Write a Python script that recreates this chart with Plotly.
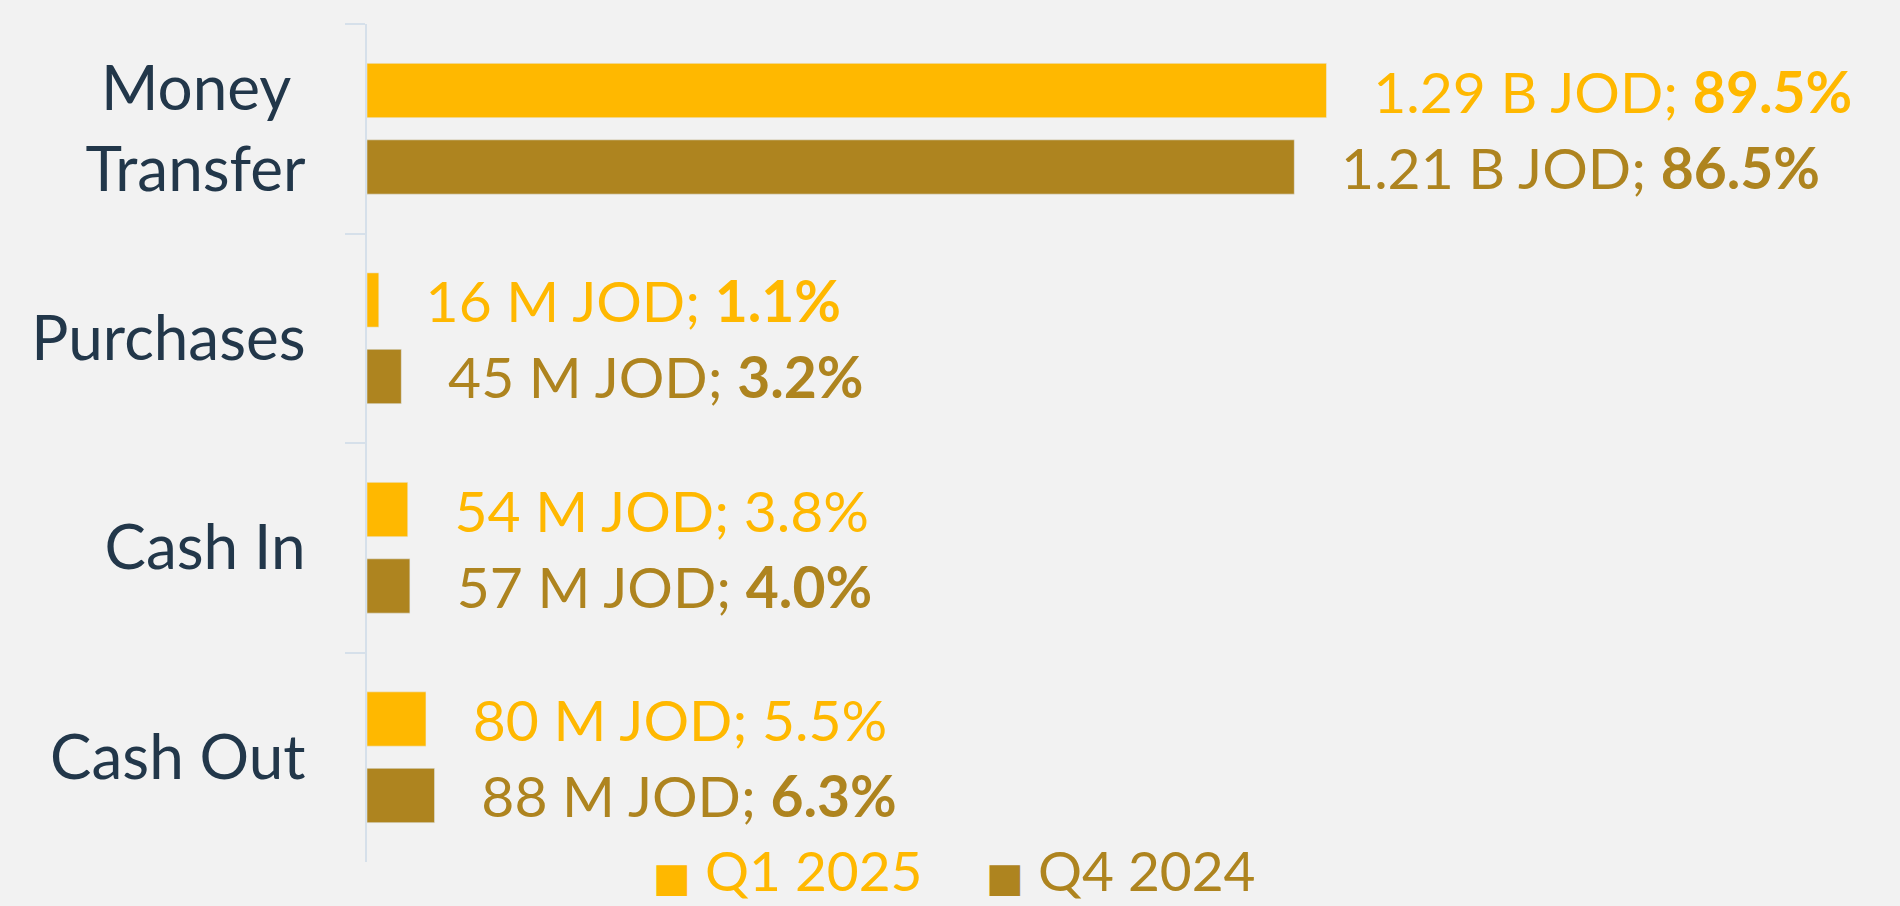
import plotly.graph_objects as go

# data
categories = ["Money <br>Transfer", "Purchases", "Cash In", "Cash Out"]
series_names = ["Q1 2025", "Q4 2024"]
q1_amounts = ["1.29 B", "16 M", "54 M", "80 M"]
q1_share = [89.5, 1.1, 3.8, 5.5]
q1_bold = [True, True, False, False]
q4_amounts = ["1.21 B", "45 M", "57 M", "88 M"]
q4_share = [86.5, 3.2, 4.0, 6.3]
q4_bold = [True, True, True, True]

Q1_COLOR = "#FFB800"
Q4_COLOR = "#AE841F"
FONT = "Lato"
PAD = "\u00a0" * 3  # gap between bar end and its label


def make_labels(amounts, shares, bold):
    out = []
    for a, s, b in zip(amounts, shares, bold):
        pct = f"{s:.1f}%"
        if b:
            pct = f"<b>{pct}</b>"
        out.append(f"{PAD}{a} JOD; {pct}")
    return out


fig = go.Figure()
fig.add_trace(go.Bar(
    y=categories, x=q1_share, orientation="h", name=series_names[0],
    marker_color=Q1_COLOR,
    text=make_labels(q1_amounts, q1_share, q1_bold),
    textposition="outside", textfont=dict(color=Q1_COLOR, size=57, family=FONT),
    constraintext="none", cliponaxis=False,
))
fig.add_trace(go.Bar(
    y=categories, x=q4_share, orientation="h", name=series_names[1],
    marker_color=Q4_COLOR,
    text=make_labels(q4_amounts, q4_share, q4_bold),
    textposition="outside", textfont=dict(color=Q4_COLOR, size=57, family=FONT),
    constraintext="none", cliponaxis=False,
))

# legend drawn as text so the swatches can be as large as in the reference
for name, color, xpos in zip(series_names, [Q1_COLOR, Q4_COLOR], [0.1854, 0.4025]):
    fig.add_annotation(
        xref="paper", yref="paper", x=xpos, y=-0.01,
        xanchor="left", yanchor="middle", showarrow=False,
        text=f"<span style='font-family:DejaVu Sans;font-size:40px'>■</span>\u00a0{name}",
        font=dict(color=color, size=55, family=FONT),
    )

fig.update_layout(
    width=1900, height=906,
    barmode="group", bargap=0.27, bargroupgap=0.29,
    plot_bgcolor="#f2f2f2", paper_bgcolor="#f2f2f2",
    font=dict(family=FONT, size=57, color="#22374a"),
    margin=dict(l=367, r=0, t=24, b=44, autoexpand=False),
    showlegend=False,
)
fig.update_xaxes(range=[0, 143], visible=False, showgrid=False, zeroline=False)
fig.update_yaxes(
    autorange="reversed", showgrid=False, zeroline=False,
    showline=True, linecolor="#d6e0ea", linewidth=2,
    ticks="outside", tickson="boundaries", ticklen=20, tickcolor="#d6e0ea", tickwidth=2,
    ticklabelstandoff=47, tickfont=dict(color="#22374a", size=62),
)

fig.write_html(
    "out.html",
    config={"displayModeBar": False},
    post_script="document.body.style.margin='0';document.body.style.overflow='hidden';",
)
